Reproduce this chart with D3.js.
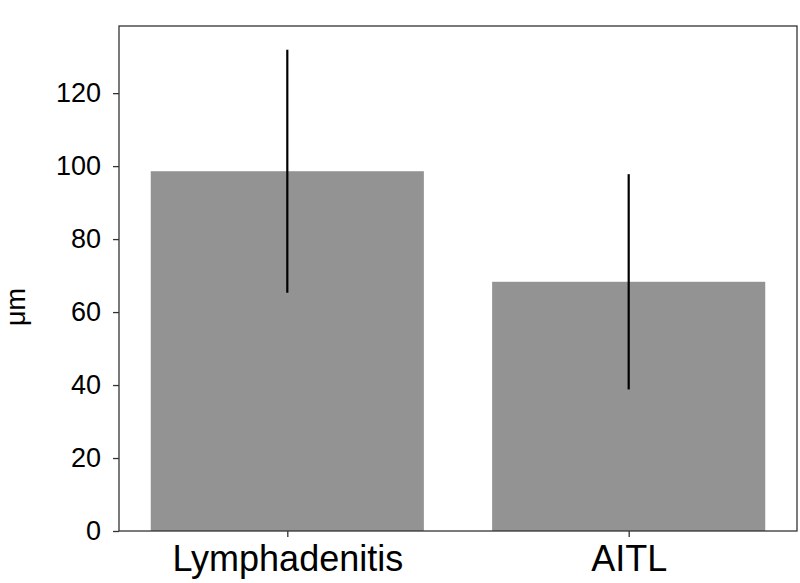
<!DOCTYPE html>
<html><head><meta charset="utf-8">
<script src="https://cdn.jsdelivr.net/npm/d3@7"></script>
<style>body{margin:0;background:#fff}svg{display:block;font-family:"Liberation Sans",Arial,sans-serif}</style>
</head><body>
<script>
const categories = ["Lymphadenitis", "AITL"];
const means = [98.6, 68.3];
const errors = [33.3, 29.5];
const yTicks = [0, 20, 40, 60, 80, 100, 120];
const yLabel = "μm";

const W = 800, H = 583;
const m = {left: 119, right: 3, top: 26, bottom: 52};
const svg = d3.select("body").append("svg").attr("width", W).attr("height", H);

const x = d3.scaleLinear().domain([-0.493, 1.493]).range([m.left, W - m.right]);
const y = d3.scaleLinear().domain([0, 138.4]).range([H - m.bottom, m.top]);
const bw = 0.8;

const g = svg.append("g");
g.selectAll("rect.bar").data(categories).join("rect")
  .attr("class", "bar")
  .attr("x", (d, i) => x(i - bw / 2))
  .attr("width", (d, i) => x(i + bw / 2) - x(i - bw / 2))
  .attr("y", (d, i) => y(means[i]))
  .attr("height", (d, i) => y(0) - y(means[i]))
  .attr("fill", "#939393");

g.selectAll("line.err").data(categories).join("line")
  .attr("class", "err")
  .attr("x1", (d, i) => x(i)).attr("x2", (d, i) => x(i))
  .attr("y1", (d, i) => y(means[i] - errors[i]))
  .attr("y2", (d, i) => y(means[i] + errors[i]))
  .attr("stroke", "#000").attr("stroke-width", 2.2);

// frame
svg.append("rect")
  .attr("x", x.range()[0]).attr("y", m.top)
  .attr("width", x.range()[1] - x.range()[0])
  .attr("height", y(0) - m.top)
  .attr("fill", "none").attr("stroke", "#333").attr("stroke-width", 1.3);

const yAxis = d3.axisLeft(y).tickValues(yTicks).tickSize(6).tickPadding(12);
const ya = svg.append("g").attr("transform", `translate(${m.left},0)`).call(yAxis);
ya.select(".domain").remove();
ya.selectAll(".tick line").attr("stroke", "#333").attr("stroke-width", 1.3);
ya.selectAll(".tick text").attr("font-size", 27).attr("fill", "#000")
  .attr("font-family", '"Liberation Sans", Arial, sans-serif');

const xAxis = d3.axisBottom(x).tickValues([0, 1]).tickFormat(i => categories[i]).tickSize(6).tickPadding(8);
const xa = svg.append("g").attr("transform", `translate(0,${y(0)})`).call(xAxis);
xa.select(".domain").remove();
xa.selectAll(".tick line").attr("stroke", "#333").attr("stroke-width", 1.3);
xa.selectAll(".tick text").attr("font-size", 36).attr("fill", "#000")
  .attr("font-family", '"Liberation Sans", Arial, sans-serif');

svg.append("text")
  .attr("transform", "translate(25,307) rotate(-90)")
  .attr("text-anchor", "middle")
  .attr("font-size", 27).attr("fill", "#000")
  .text(yLabel);
</script>
</body></html>
